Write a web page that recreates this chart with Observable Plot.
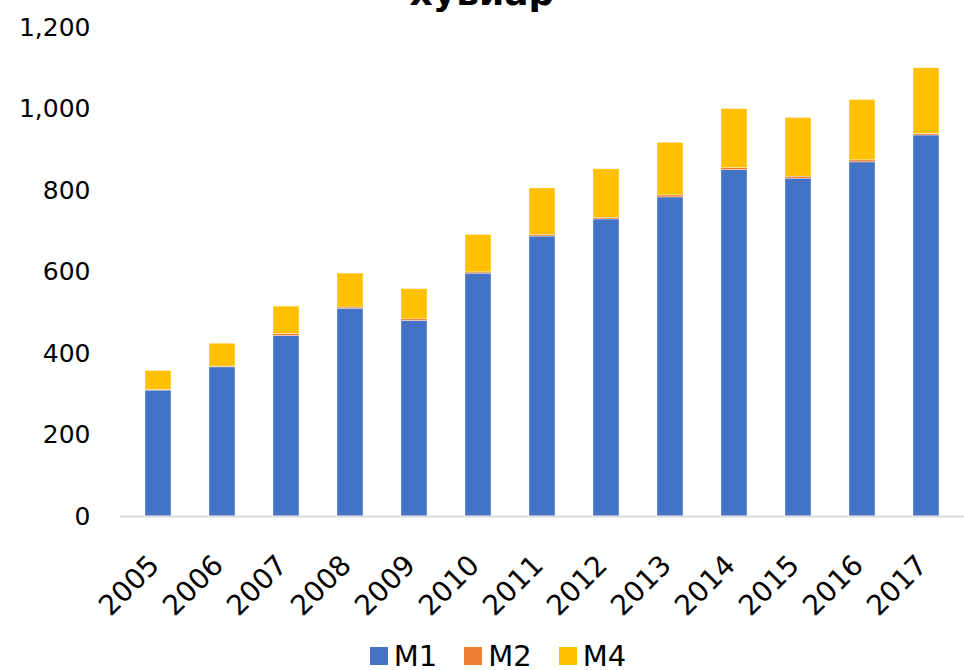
<!DOCTYPE html>
<html>
<head>
<meta charset="utf-8">
<script src="https://cdn.jsdelivr.net/npm/d3@7"></script>
<script src="https://cdn.jsdelivr.net/npm/@observablehq/plot@0.6"></script>
<style>
  body { margin: 0; background: #fff; }
  #wrap { position: relative; width: 964px; height: 670px; overflow: hidden; font-family: "DejaVu Sans", sans-serif; }
  #title { position: absolute; left: 0; width: 964px; top: -28px; text-align: center; font-size: 36px; font-weight: bold; color: #000; }
  #chart { position: absolute; left: 0; top: 0; }
  #legend { position: absolute; left: 16px; width: 964px; top: 639px; display: flex; justify-content: center; gap: 27px; font-size: 29px; color: #000; }
  #legend span { display: flex; align-items: center; }
  #legend i { display: inline-block; width: 18px; height: 18px; margin-right: 6px; }
</style>
</head>
<body>
<div id="wrap">
  <div id="title">хувиар</div>
  <div id="chart"></div>
  <div id="legend"></div>
</div>
<script>
const years = ["2005","2006","2007","2008","2009","2010","2011","2012","2013","2014","2015","2016","2017"];
const m1 = [309, 366, 443, 510, 480, 596, 687, 729, 783, 850, 829, 869, 935];
const m2 = [2, 2, 5, 3, 4, 3, 4, 4, 5, 5, 5, 5, 4];
const m4 = [46, 56, 67, 83, 74, 92, 114, 119, 129, 145, 144, 148, 161];
const seriesNames = ["M1", "M2", "M4"];
const seriesColors = ["#4472C4", "#ED7D31", "#FFC000"];
const yTicks = [0, 200, 400, 600, 800, 1000, 1200];

const rows = [];
years.forEach((y, i) => {
  rows.push({year: y, series: "M1", value: m1[i]});
  rows.push({year: y, series: "M2", value: m2[i]});
  rows.push({year: y, series: "M4", value: m4[i]});
});

const chart = Plot.plot({
  width: 964,
  height: 630,
  marginTop: 27,
  marginBottom: 114,
  marginLeft: 120,
  marginRight: 0,
  style: { fontFamily: "DejaVu Sans, sans-serif", fontSize: "24px", color: "#000", background: "transparent" },
  x: { domain: years, paddingInner: 0.6, paddingOuter: 0.3, label: null },
  y: { domain: [0, 1200], label: null },
  color: { domain: seriesNames, range: seriesColors },
  marks: [
    Plot.barY(rows, {x: "year", y: "value", fill: "series", order: seriesNames, stroke: "#fff", strokeWidth: 0.6, strokeOpacity: 0.6}),
    Plot.ruleY([0], {stroke: "#d9d9d9", strokeWidth: 2}),
    Plot.axisY({ticks: yTicks, tickFormat: d3.format(","), tickSize: 0, tickPadding: 30, fontSize: 25, label: null}),
    Plot.axisX({tickSize: 0, tickRotate: -45, tickPadding: 44, fontSize: 28, label: null, dx: -4})
  ]
});
document.getElementById("chart").appendChild(chart);

const legend = document.getElementById("legend");
seriesNames.forEach((s, i) => {
  const span = document.createElement("span");
  const sw = document.createElement("i");
  sw.style.background = seriesColors[i];
  span.appendChild(sw);
  span.appendChild(document.createTextNode(s));
  legend.appendChild(span);
});
</script>
</body>
</html>
